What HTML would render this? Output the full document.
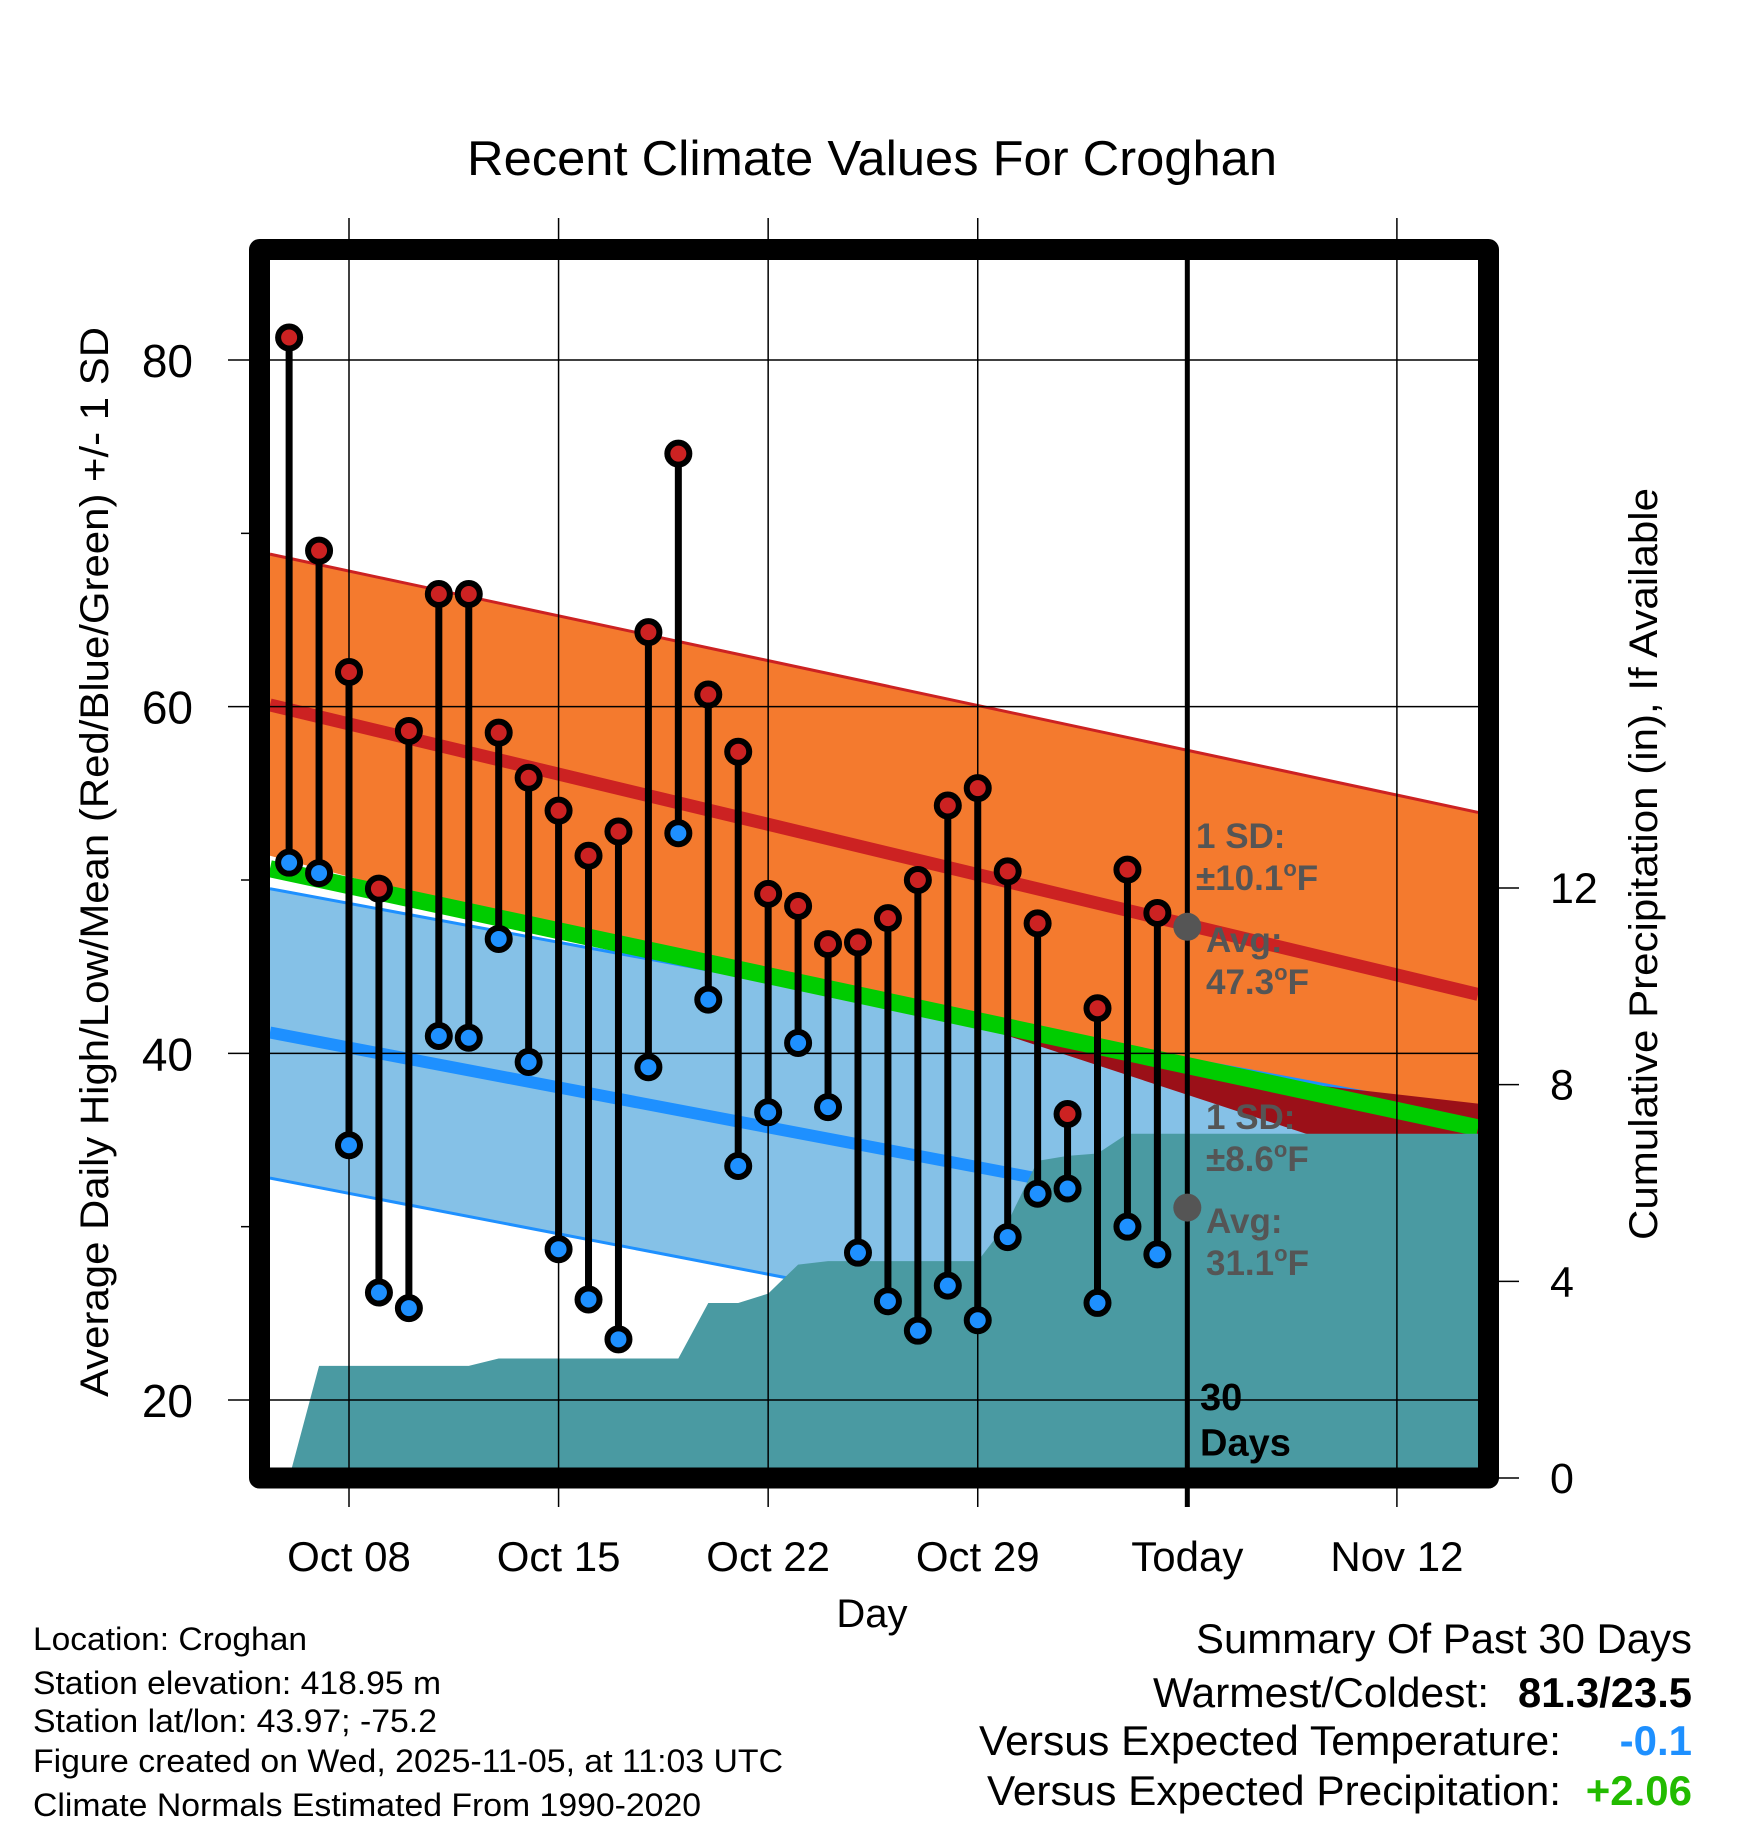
<!DOCTYPE html>
<html><head><meta charset="utf-8"><style>
html,body{margin:0;padding:0;background:#fff;}
svg{display:block;font-family:"Liberation Sans",sans-serif;}
</style></head><body>
<svg id="chart" width="1748" height="1828" viewBox="0 0 1748 1828" xmlns="http://www.w3.org/2000/svg">
<rect width="1748" height="1828" fill="#fff"/>
<g id="plot"></g>
<text x="872" y="175" font-size="49" text-anchor="middle" textLength="810" lengthAdjust="spacingAndGlyphs">Recent Climate Values For Croghan</text>
<text transform="translate(108,862) rotate(-90)" font-size="40" text-anchor="middle" textLength="1070" lengthAdjust="spacingAndGlyphs">Average Daily High/Low/Mean (Red/Blue/Green) +/- 1 SD</text>
<text transform="translate(1657,864) rotate(-90)" font-size="40" text-anchor="middle" textLength="752" lengthAdjust="spacingAndGlyphs">Cumulative Precipitation (in), If Available</text>
<text x="872" y="1627" font-size="40" text-anchor="middle">Day</text>
<g font-size="32">
<text x="33" y="1650" textLength="274" lengthAdjust="spacingAndGlyphs">Location: Croghan</text>
<text x="33" y="1694" textLength="408" lengthAdjust="spacingAndGlyphs">Station elevation: 418.95 m</text>
<text x="33" y="1732" textLength="404" lengthAdjust="spacingAndGlyphs">Station lat/lon: 43.97; -75.2</text>
<text x="33" y="1772" textLength="750" lengthAdjust="spacingAndGlyphs">Figure created on Wed, 2025-11-05, at 11:03 UTC</text>
<text x="33" y="1816" textLength="668" lengthAdjust="spacingAndGlyphs">Climate Normals Estimated From 1990-2020</text>
</g>
<g font-size="42">
<text x="1692" y="1653" text-anchor="end" textLength="496" lengthAdjust="spacingAndGlyphs">Summary Of Past 30 Days</text>
<text x="1489" y="1707" text-anchor="end" textLength="336" lengthAdjust="spacingAndGlyphs">Warmest/Coldest:</text>
<text x="1692" y="1707" text-anchor="end" font-weight="bold" textLength="174" lengthAdjust="spacingAndGlyphs">81.3/23.5</text>
<text x="1561" y="1755" text-anchor="end" textLength="582" lengthAdjust="spacingAndGlyphs">Versus Expected Temperature:</text>
<text x="1692" y="1755" text-anchor="end" font-weight="bold" fill="#1E90FF">-0.1</text>
<text x="1561" y="1805" text-anchor="end" textLength="574" lengthAdjust="spacingAndGlyphs">Versus Expected Precipitation:</text>
<text x="1692" y="1805" text-anchor="end" font-weight="bold" fill="#22BB00">+2.06</text>
</g>
</svg>
<script>
// ---- data ----
const dayOffsets = [-2,-1,0,1,2,3,4,5,6,7,8,9,10,11,12,13,14,15,16,17,18,19,20,21,22,23,24,25,26,27]; // days from Oct 08
const highs = [81.3,69.0,62.0,49.5,58.6,66.5,66.5,58.5,55.9,54.0,51.4,52.8,64.3,74.6,60.7,57.4,49.2,48.5,46.3,46.4,47.8,50.0,54.3,55.3,50.5,47.5,36.5,42.6,50.6,48.1];
const lows = [51.0,50.4,34.7,26.2,25.3,41.0,40.9,46.6,39.5,28.7,25.8,23.5,39.2,52.7,43.1,33.5,36.6,40.6,36.9,28.5,25.7,24.0,26.6,24.6,29.4,31.9,32.2,25.6,30.0,28.4];
const precip = [0,2.28,2.28,2.28,2.28,2.28,2.28,2.43,2.43,2.43,2.43,2.43,2.43,2.43,3.56,3.56,3.75,4.34,4.41,4.41,4.41,4.41,4.41,4.41,5.2,6.45,6.55,6.6,7.0,7.0];
const normDays = [-2.64, 37.71];
const normHigh = [60.1, 43.4];
const normHighUpper = [68.8, 53.9];
const normHighLower = [51.4, 32.9];
const normLow = [41.2, 27.95];
const normLowUpper = [49.5, 36.55];
const normLowLower = [32.8, 19.35];
const normMean = [50.65, 35.7];
const xTickDays = [0,7,14,21,28,35];
const xTickLabels = ['Oct 08','Oct 15','Oct 22','Oct 29','Today','Nov 12'];
const yTicks = [20,40,60,80];
const yMinorTicks = [30,50,70];
const pTicks = [0,4,8,12];
const todayDay = 28;

// ---- scales ----
const X = t => 349 + t*29.94;
const Y = v => 1400 - (v-20)*17.333;
const P = v => 1478 - v*49.17;
const L = 270, R = 1478, T = 260, B = 1468;
const NS = 'http://www.w3.org/2000/svg';
const plot = document.getElementById('plot');
function mk(tag, attrs, parent){ const e=document.createElementNS(NS,tag); for(const k in attrs) e.setAttribute(k,attrs[k]); (parent||plot).appendChild(e); return e; }
function band(up, lo){ return `M${X(normDays[0])},${Y(up[0])} L${X(normDays[1])},${Y(up[1])} L${X(normDays[1])},${Y(lo[1])} L${X(normDays[0])},${Y(lo[0])} Z`; }
function line(v){ return `M${X(normDays[0])},${Y(v[0])} L${X(normDays[1])},${Y(v[1])}`; }

const clip = mk('clipPath',{id:'clipArea'});
mk('rect',{x:L,y:T,width:R-L,height:B-T},clip);
const g = mk('g',{'clip-path':'url(#clipArea)'});

let e;
e = mk('path',{d:band(normHighUpper,normHighLower),fill:'#F47A2E'},g);
 
e = mk('path',{d:line(normHighUpper),stroke:'#CC2222','stroke-width':3,fill:'none'},g);
 
e = mk('path',{d:band(normLowUpper,normLowLower),fill:'#85C1E7'},g);
 
e = mk('path',{d:line(normLowUpper),stroke:'#1E90FF','stroke-width':3,fill:'none'},g);
 
e = mk('path',{d:line(normLowLower),stroke:'#1E90FF','stroke-width':3,fill:'none'},g);
 
e = mk('path',{d:`M${X(18.5)},${Y(43.0)} L${X(29.63)},${Y(38.68)} L${X(37.71)},${Y(37.1)} L${X(37.71)},${Y(32.1)} Z`,fill:'#9B1018'},g);
 
e = mk('path',{d:line(normMean),stroke:'#00CC00','stroke-width':17,fill:'none'},g);
 
e = mk('path',{d:line(normHigh),stroke:'#CC2222','stroke-width':13,fill:'none'},g);
 
e = mk('path',{d:line(normLow),stroke:'#1E90FF','stroke-width':12,fill:'none'},g);
 

// precipitation area
let pd = `M${X(dayOffsets[0])},${P(0)}`;
precip.forEach((v,i)=>{ pd += ` L${X(dayOffsets[i])},${P(v)}`; });
pd += ` L${R},${P(precip[precip.length-1])} L${R},${B} L${X(dayOffsets[0])},${B} Z`;
e = mk('path',{d:pd,fill:'#4A9AA2'},g);
 

// gridlines
xTickDays.forEach((t,i)=>{
  if(t===todayDay){
    e = mk('line',{x1:X(t),x2:X(t),y1:T,y2:1507,stroke:'#000','stroke-width':5});
     
  } else {
    e = mk('line',{x1:X(t),x2:X(t),y1:218,y2:1507,stroke:'#000','stroke-width':1.5});
     
  }
  e = mk('text',{x:X(t),y:1571,'font-size':42,'text-anchor':'middle'});
   
  e.textContent = xTickLabels[i];
});
yTicks.forEach(v=>{
  e = mk('line',{x1:228,x2:R,y1:Y(v),y2:Y(v),stroke:'#000','stroke-width':1.5});
   
  e = mk('text',{x:193,y:Y(v)+17,'font-size':46,'text-anchor':'end'});
   
  e.textContent = v;
});
yMinorTicks.forEach(v=>{
  e = mk('line',{x1:241,x2:252,y1:Y(v),y2:Y(v),stroke:'#000','stroke-width':1.5});
   
});
pTicks.forEach(v=>{
  e = mk('line',{x1:1495,x2:1519,y1:P(v),y2:P(v),stroke:'#000','stroke-width':1.5});
   
  e = mk('text',{x:1550,y:P(v)+15,'font-size':43});
   
  e.textContent = v;
});

// annotations
function ann(x,y,lines,size,fill,name){
  const t = mk('text',{x:x,y:y,'font-size':size,'font-weight':'bold',fill:fill});
  
  
  lines.forEach((s,i)=>{ const ts=mk('tspan',{x:x,dy:i?size*1.2:0},t); ts.innerHTML=s; });
}
e = mk('circle',{cx:X(todayDay),cy:Y(47.3),r:14,fill:'#555'});
 
e = mk('circle',{cx:X(todayDay),cy:Y(31.1),r:14,fill:'#555'});
 
ann(1196,848,['1 SD:','&#177;10.1<tspan font-size="22" dy="-14">o</tspan><tspan dy="14">F</tspan>'],35,'#555','high-sd-annotation');
ann(1206,952,['Avg:','47.3<tspan font-size="22" dy="-14">o</tspan><tspan dy="14">F</tspan>'],35,'#555','high-avg-annotation');
ann(1206,1129,['1 SD:','&#177;8.6<tspan font-size="22" dy="-14">o</tspan><tspan dy="14">F</tspan>'],35,'#555','low-sd-annotation');
ann(1206,1233,['Avg:','31.1<tspan font-size="22" dy="-14">o</tspan><tspan dy="14">F</tspan>'],35,'#555','low-avg-annotation');
ann(1200,1410,['30','Days'],38,'#000','days-annotation');

// stems & dots
highs.forEach((h,i)=>{
  const x = X(dayOffsets[i]);
  e = mk('line',{x1:x,x2:x,y1:Y(h),y2:Y(lows[i]),stroke:'#000','stroke-width':7});
   
});
highs.forEach((h,i)=>{
  const x = X(dayOffsets[i]);
  e = mk('circle',{cx:x,cy:Y(h),r:11,fill:'#CC2222',stroke:'#000','stroke-width':6});
   
  e = mk('circle',{cx:x,cy:Y(lows[i]),r:11,fill:'#1E90FF',stroke:'#000','stroke-width':6});
   
});

e = mk('rect',{x:259.5,y:249.5,width:1229,height:1228.5,fill:'none',stroke:'#000','stroke-width':21,'stroke-linejoin':'round'});
 
</script>
</body></html>
